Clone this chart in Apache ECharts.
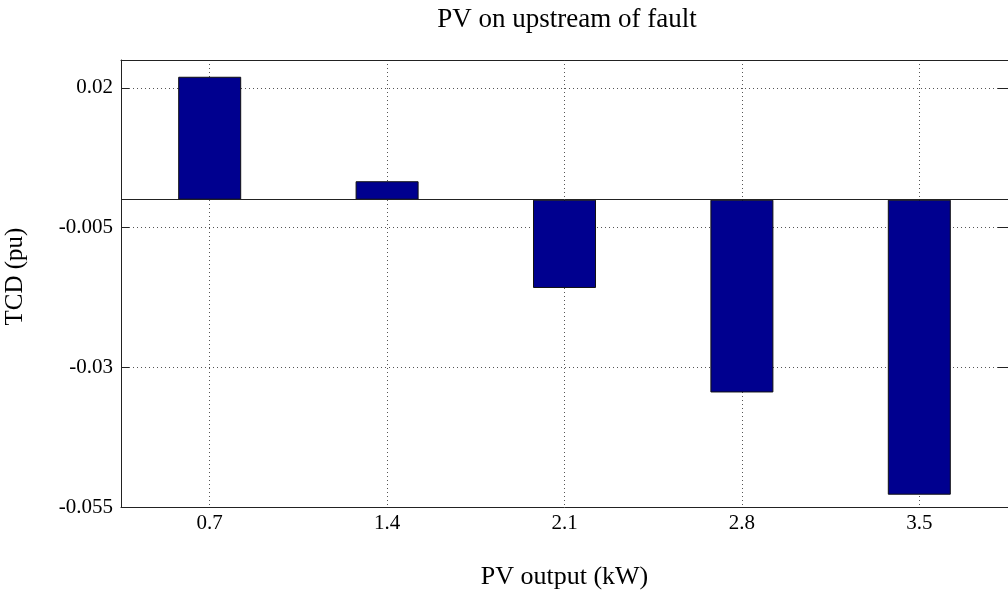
<!DOCTYPE html>
<html>
<head>
<meta charset="utf-8">
<script src="https://cdn.jsdelivr.net/npm/echarts@6/dist/echarts.min.js"></script>
<style>
  html, body { margin: 0; padding: 0; background: #fff; }
  #chart { width: 1008px; height: 591px; }
</style>
</head>
<body>
<div id="chart"></div>
<script>
// PV output levels (kW) and the resulting TCD values (pu)
const categories = ['0.7', '1.4', '2.1', '2.8', '3.5'];
const tcdValues = [0.022, 0.0033, -0.0158, -0.0345, -0.0528];
const yMin = -0.055;
const yMax = 0.025;
const yStep = 0.025;

const FONT = 'Liberation Serif';
const fmt = v => String(+v.toFixed(3));

const chart = echarts.init(document.getElementById('chart'));
chart.setOption({
  animation: false,
  backgroundColor: '#fff',
  title: {
    text: 'PV on upstream of fault',
    left: 562, top: 1, textAlign: 'center',
    textStyle: { fontFamily: FONT, fontSize: 27, fontWeight: 'normal', color: '#000' }
  },
  grid: { left: 121, right: 0, top: 60, bottom: 84, outerBoundsMode: 'none' },
  xAxis: [{
    type: 'category',
    data: categories,
    position: 'bottom',
    boundaryGap: true,
    name: 'PV output (kW)',
    nameLocation: 'middle',
    nameGap: 57,
    nameTextStyle: { fontFamily: FONT, fontSize: 26, color: '#000' },
    axisLine: { onZero: false, lineStyle: { color: '#222', width: 1 } },
    axisTick: { inside: true, length: 9, alignWithLabel: true, lineStyle: { color: '#222' } },
    axisLabel: { fontFamily: FONT, fontSize: 21, color: '#000', margin: 6 },
    splitLine: { show: true, alignWithLabel: true, lineStyle: { color: '#555', type: [1, 3], width: 1 } }
  }, {
    type: 'category',
    data: categories,
    position: 'top',
    boundaryGap: true,
    axisLine: { onZero: false, lineStyle: { color: '#222', width: 1 } },
    axisTick: { inside: true, length: 9, alignWithLabel: true, lineStyle: { color: '#222' } },
    axisLabel: { show: false },
    splitLine: { show: false }
  }],
  yAxis: [{
    type: 'value',
    min: yMin, max: yMax, interval: yStep,
    position: 'left',
    name: 'TCD (pu)',
    nameLocation: 'middle',
    nameGap: 93,
    nameRotate: 90,
    nameTextStyle: { fontFamily: FONT, fontSize: 25, color: '#000', padding: [0, 0, 0, 14] },
    axisLine: { show: true, onZero: false, lineStyle: { color: '#222', width: 1 } },
    axisTick: { show: true, inside: true, length: 8, lineStyle: { color: '#222' } },
    axisLabel: { fontFamily: FONT, fontSize: 21, color: '#000', margin: 8, formatter: fmt, showMaxLabel: false },
    splitLine: { show: true, lineStyle: { color: '#555', type: [1, 3], width: 1 } }
  }, {
    type: 'value',
    min: yMin, max: yMax, interval: yStep,
    position: 'right',
    axisLine: { show: true, onZero: false, lineStyle: { color: '#222', width: 1 } },
    axisTick: { show: true, inside: true, length: 10, lineStyle: { color: '#222' } },
    axisLabel: { show: false },
    splitLine: { show: false }
  }],
  series: [{
    type: 'bar',
    data: tcdValues,
    xAxisIndex: 0,
    yAxisIndex: 0,
    barWidth: 63,
    itemStyle: { color: '#00008F', borderColor: '#111', borderWidth: 1 },
    markLine: {
      silent: true,
      symbol: 'none',
      label: { show: false },
      lineStyle: { color: '#222', type: 'solid', width: 1 },
      data: [{ yAxis: 0 }]
    }
  }]
});
</script>
</body>
</html>
